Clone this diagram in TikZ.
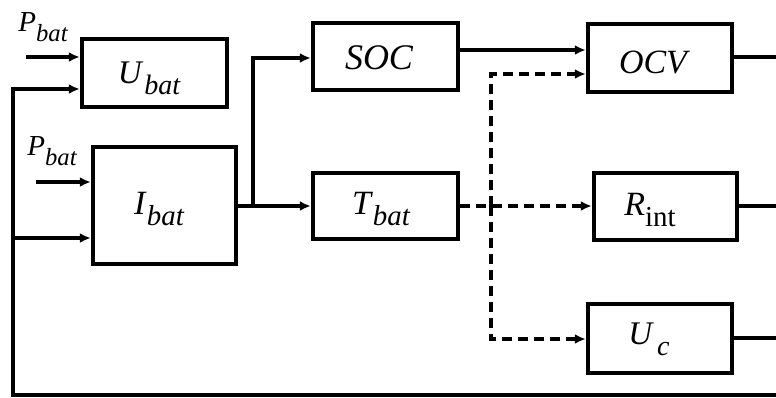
\documentclass[tikz,border=0pt]{standalone}
\usepackage{fontspec}
\usepackage{graphicx}
\setmainfont{Liberation Serif}
\usetikzlibrary{arrows.meta}
\newcommand\msub[5]{{\fontsize{#1}{#1}\selectfont\itshape #2\/\kern#5pt\raisebox{-0.33em}{\scalebox{0.85}{#4#3}}}}
\begin{document}
\begin{tikzpicture}[x=1pt,y=-1pt,
  blk/.style={draw,line width=4.5pt,rectangle,inner sep=0pt},
  con/.style={line width=3.4pt,-{Latex[length=11pt,width=10pt]}},
  plain/.style={line width=3.4pt},
  dsh/.style={line width=3.4pt,dash pattern=on 10pt off 6pt,-{Latex[length=11pt,width=10pt]}},
  txt/.style={inner sep=0pt}]
\useasboundingbox (0,0) rectangle (776,397);
% boxes
\node[blk,minimum width=145pt,minimum height=68pt] (ubat) at (154.5,73) {};
\node[blk,minimum width=143pt,minimum height=117pt] (ibat) at (164.5,205.5) {};
\node[blk,minimum width=145pt,minimum height=67pt] (soc) at (385.5,56.5) {};
\node[blk,minimum width=145pt,minimum height=66pt] (tbat) at (385.5,206) {};
\node[blk,minimum width=144pt,minimum height=68pt] (ocv) at (660,58) {};
\node[blk,minimum width=143pt,minimum height=67pt] (rint) at (665.5,206.5) {};
\node[blk,minimum width=144pt,minimum height=69pt] (uc) at (660,338.5) {};
% texts
\node[txt] (tu) at (149,78) {\msub{33}{U}{bat}{}{1}};
\node[txt] (ti) at (159,209) {\msub{34}{I}{bat}{}{0}};
\node[txt] (ts) at (379,58) {{\fontsize{36}{36}\selectfont\itshape SOC}};
\node[txt] (tt) at (381,209) {\msub{34}{T}{bat}{}{0}};
\node[txt] (to) at (653,62) {{\fontsize{34}{34}\selectfont\itshape OCV}};
\node[txt] (tr) at (650,210) {\msub{34}{R}{int}{\upshape}{0}};
\node[txt] (tc) at (649,339) {\msub{33}{U}{c}{}{3}};
\node[txt] (p1) at (43,27) {\msub{29}{P}{bat}{}{0}};
\node[txt] (p2) at (52,151) {\msub{29}{P}{bat}{}{0}};
% coordinates
\coordinate (in1) at (26,57);
\coordinate (in2) at (36,182);
\coordinate (fbR) at (776,395);
\coordinate (fbL) at (13,395);
\coordinate (fbI) at (13,238);
\coordinate (br) at (253,206);
\coordinate (dj) at (491,206);
\coordinate (oo) at (776,57);
\coordinate (ro) at (776,206);
\coordinate (uo) at (776,338);
% connectors
\draw[con] (in1) -- (in1 -| ubat.west);
\draw[con] (in2) -- (in2 -| ibat.west);
\draw[con] (fbR) -- (fbL) -- (13,89) -- (ubat.west |- 0,89);
\draw[con] (fbI) -- (fbI -| ibat.west);
\draw[con] (ibat.east |- br) -- (tbat.west |- br);
\draw[con] (br) |- (soc.west |- 0,58);
\draw[con] (soc.east |- 0,50) -- (ocv.west |- 0,50);
\draw[dsh] (tbat.east |- dj) -- (rint.west |- dj);
\draw[dsh] (dj) |- (ocv.west |- 0,74);
\draw[dsh] (dj) |- (uc.west |- 0,339);
\draw[plain] (ocv.east |- oo) -- (oo);
\draw[plain] (rint.east |- ro) -- (ro);
\draw[plain] (uc.east |- uo) -- (uo);
\end{tikzpicture}
\end{document}
